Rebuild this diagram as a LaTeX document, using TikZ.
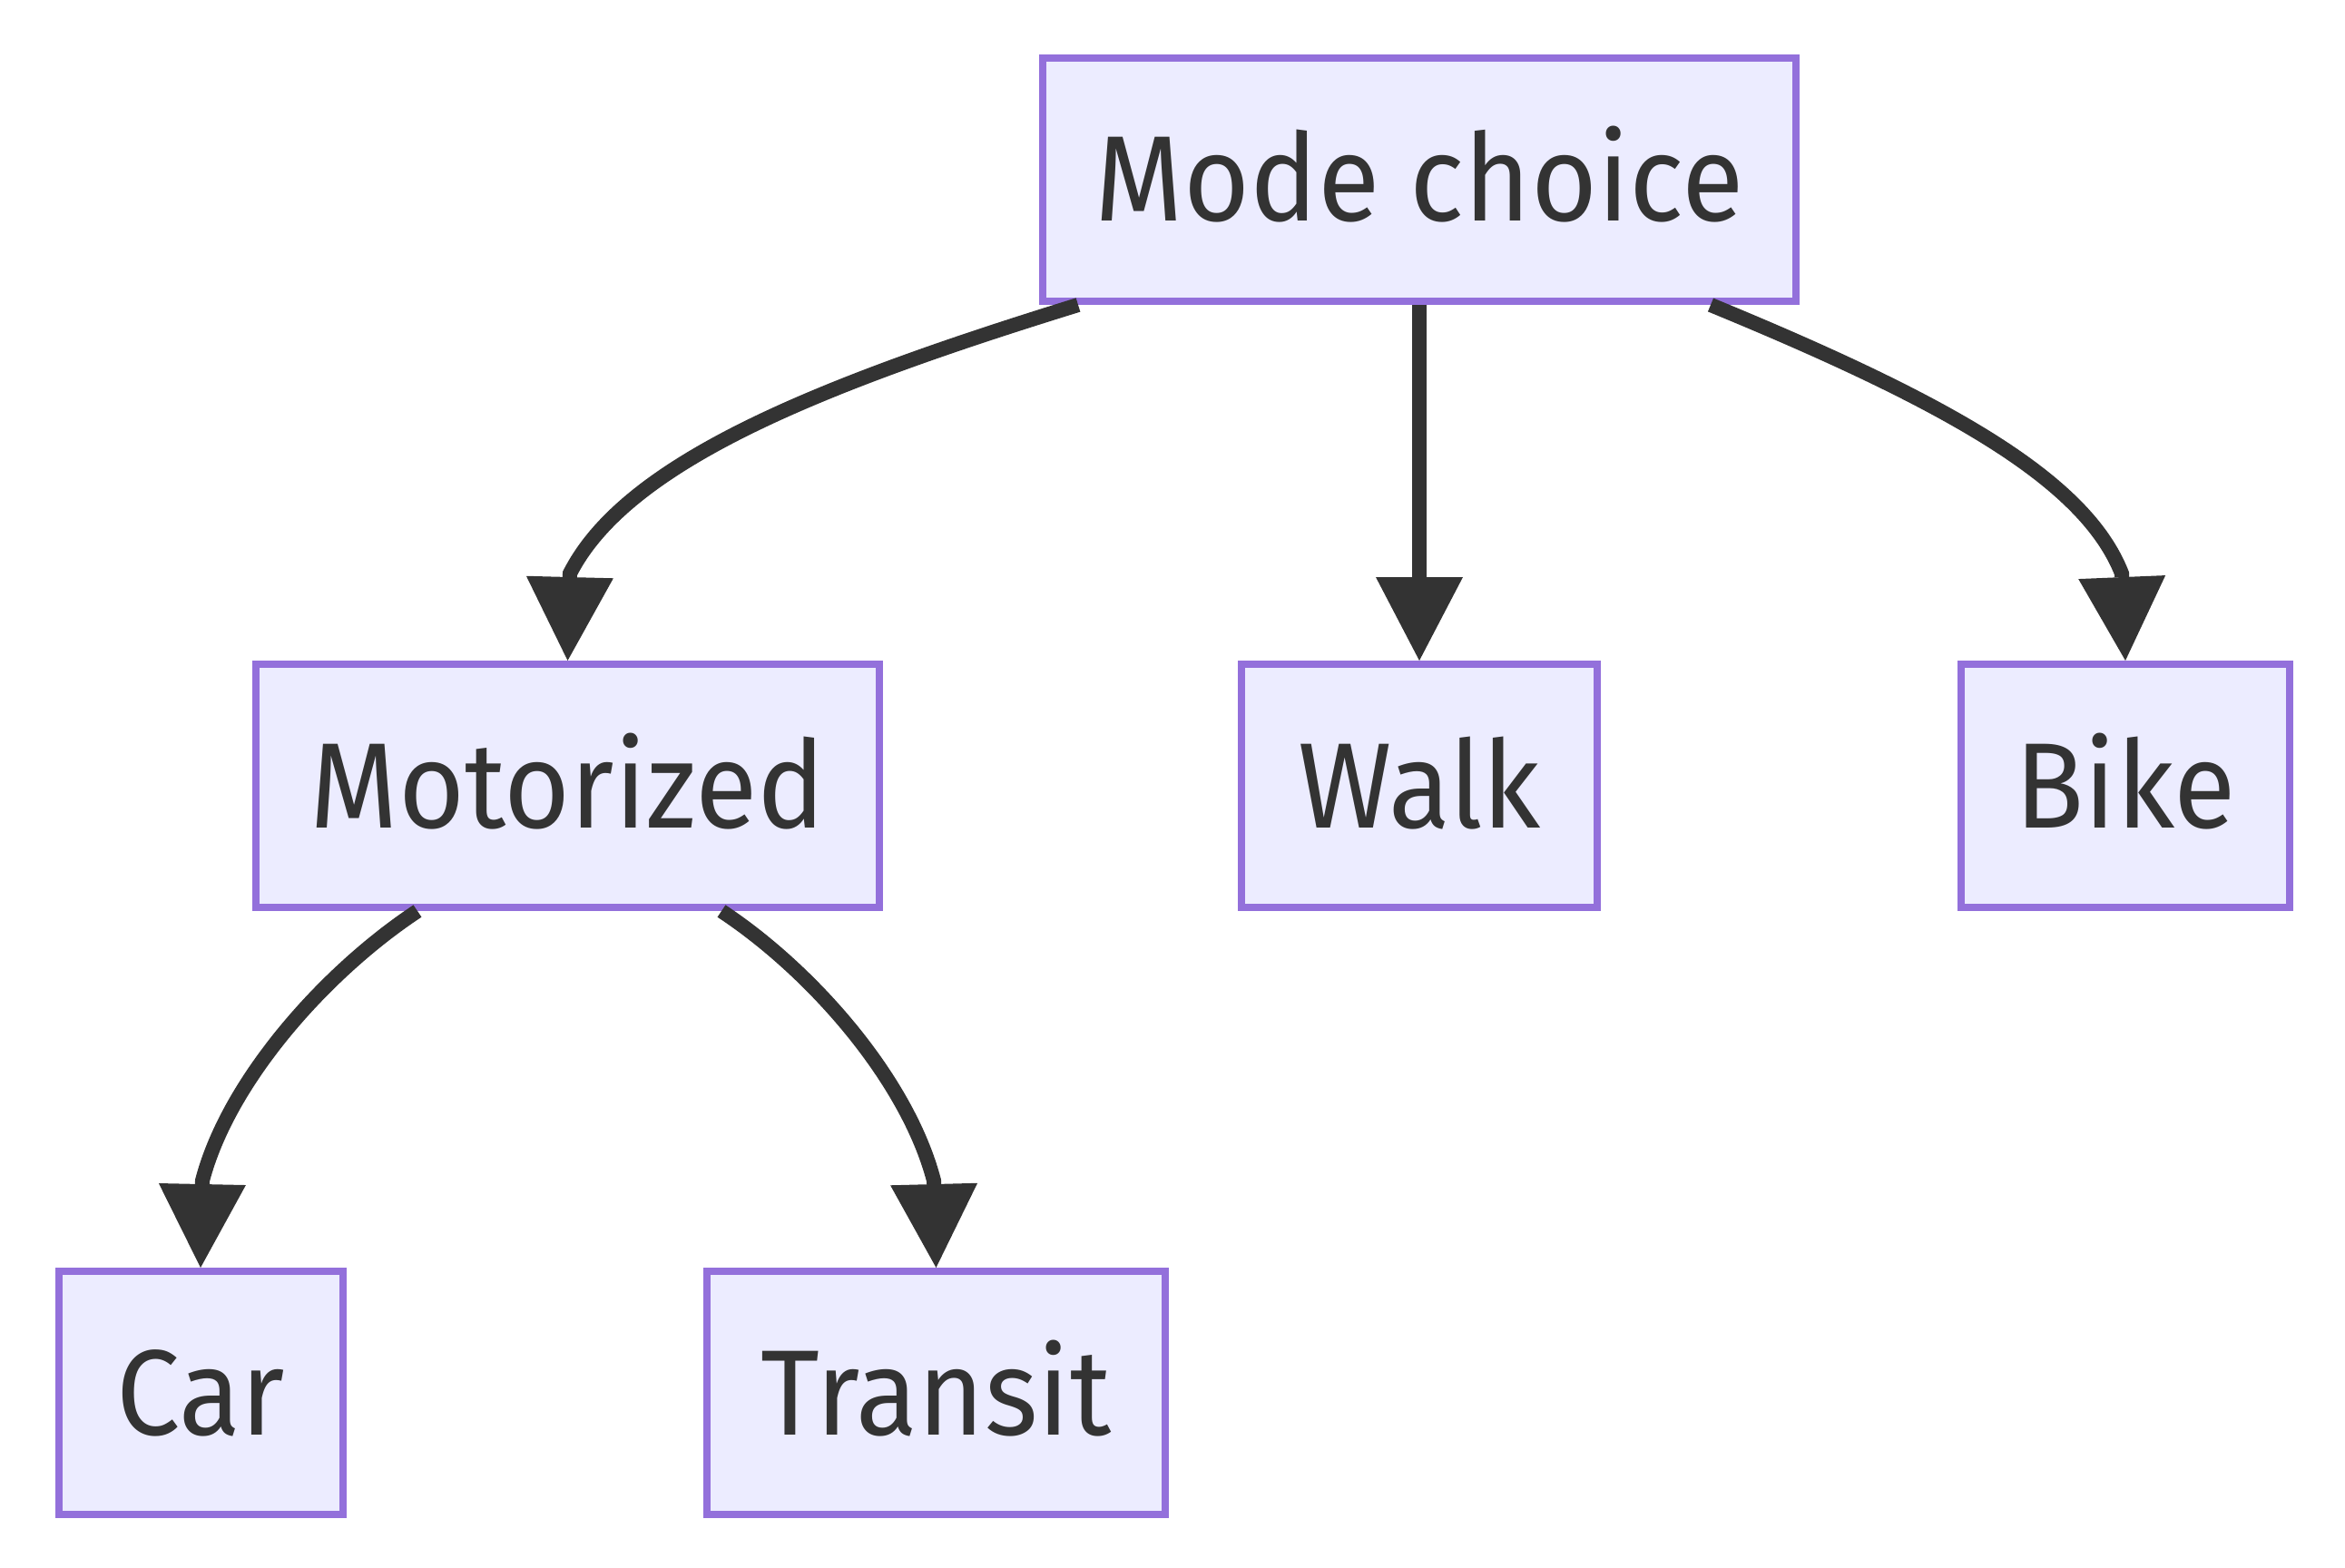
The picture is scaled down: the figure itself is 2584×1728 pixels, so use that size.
\documentclass[tikz,border=0pt]{standalone}
\usepackage{fontspec}
\setmainfont{Fira Sans}[FakeStretch=0.935]
\usetikzlibrary{arrows.meta}
\definecolor{boxfill}{HTML}{ECECFF}
\definecolor{boxline}{HTML}{9370DB}
\definecolor{ink}{HTML}{333333}
\begin{document}
\begin{tikzpicture}[x=1pt,y=-1pt,
  box/.style={draw=boxline, fill=boxfill, line width=8pt, inner sep=0pt,
    minimum height=268pt, text=ink, font=\fontsize{134}{150}\selectfont,
    text height=92pt, text depth=0pt},
  edge/.style={draw=ink, line width=16pt,
    -{Triangle[length=92pt,width=96pt,line width=0pt]}}]
\useasboundingbox (0,0) rectangle (2584,1728);
\node[box, minimum width=829.5pt] (mode) at (1564,198) {Mode choice};
\node[box, minimum width=687pt] (motor) at (625.5,866) {Motorized};
\node[box, minimum width=392pt] (walk) at (1564,866) {Walk};
\node[box, minimum width=362pt] (bike) at (2342,866) {Bike};
\node[box, minimum width=313pt] (car) at (221,1535) {Car};
\node[box, minimum width=505pt] (transit) at (1031.5,1535) {Transit};
\draw[edge] ([xshift=-376pt]mode.south) .. controls (900,425) and (690,510) .. (628,632) -- (motor.north);
\draw[edge] (mode.south) -- (walk.north);
\draw[edge] ([xshift=321pt]mode.south) .. controls (2150,445) and (2298,530) .. (2338,632) -- (bike.north);
\draw[edge] ([xshift=-165.5pt]motor.south) .. controls (360,1070) and (252,1190) .. (223,1301) -- (car.north);
\draw[edge] ([xshift=169.5pt]motor.south) .. controls (895,1070) and (1000,1190) .. (1029,1301) -- (transit.north);
\end{tikzpicture}
\end{document}
